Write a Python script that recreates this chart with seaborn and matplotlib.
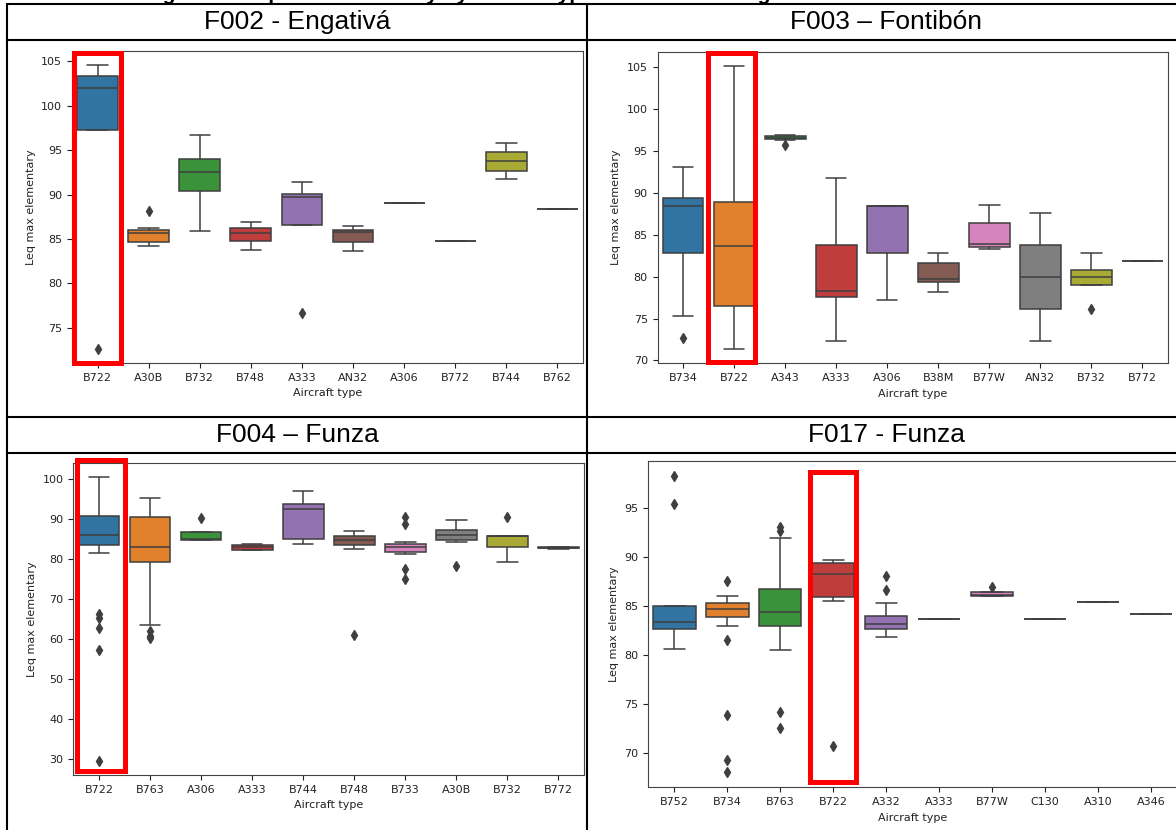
import matplotlib
matplotlib.use('Agg')
import pandas as pd
import matplotlib.pyplot as plt
import seaborn as sns
from matplotlib.lines import Line2D
from matplotlib.patches import Rectangle
from matplotlib.transforms import blended_transform_factory

# Leq max elementary samples per aircraft type, one panel per station
f002_types = ['B722', 'A30B', 'B732', 'B748', 'A333', 'AN32', 'A306', 'B772', 'B744', 'B762']
f002_values = [
    [72.65, 97.3, 102.0, 103.3, 104.55],
    [84.18, 84.5, 84.7, 85.5, 85.7, 85.9, 86.0, 86.27, 88.15],
    [85.86, 90.45, 92.57, 94.03, 96.68],
    [83.8, 84.81, 85.7, 86.23, 86.9],
    [76.68, 86.53, 89.7, 90.1, 91.42],
    [83.7, 84.7, 85.8, 86.0, 86.42],
    [89.0],
    [84.74],
    [91.8, 92.65, 93.73, 94.74, 95.8],
    [88.32],
]

f003_types = ['B734', 'B722', 'A343', 'A333', 'A306', 'B38M', 'B77W', 'AN32', 'B732', 'B772']
f003_values = [
    [72.7, 75.32, 82.85, 86.0, 88.45, 88.9, 89.4, 91.0, 93.06],
    [71.35, 76.55, 83.61, 88.93, 105.08],
    [95.65, 96.3, 96.35, 96.45, 96.5, 96.6, 96.7, 96.8, 96.9],
    [72.3, 77.62, 78.33, 83.77, 91.7],
    [77.22, 82.78, 88.45, 88.45, 88.45],
    [78.17, 79.33, 79.72, 81.59, 82.86],
    [83.3, 83.57, 83.89, 86.39, 88.57],
    [72.3, 76.11, 79.92, 83.77, 87.58],
    [76.1, 79.0, 79.0, 79.6, 80.0, 80.3, 80.8, 81.8, 82.86],
    [81.9],
]

f004_types = ['B722', 'B763', 'A306', 'A333', 'B744', 'B748', 'B733', 'A30B', 'B732', 'B772']
f004_values = [
    [29.6, 57.27, 62.68, 65.3, 66.17, 81.46, 83.46, 84.0, 84.5, 85.0, 85.3, 85.6, 85.87,
     86.5, 87.5, 88.5, 89.5, 90.2, 90.69, 91.5, 93.0, 95.0, 97.0, 99.0, 100.33],
    [60.2, 60.8, 61.9, 63.5, 79.14, 80.0, 81.0, 82.0, 82.96, 85.0, 87.0, 89.0, 90.36,
     91.5, 92.5, 94.0, 95.18],
    [84.7, 84.7, 84.9, 86.7, 90.2],
    [82.13, 82.3, 82.87, 83.45, 83.6],
    [83.79, 84.87, 92.52, 93.77, 97.0],
    [61.0, 82.38, 83.46, 84.0, 84.62, 85.0, 85.62, 86.3, 86.95],
    [75.06, 77.4, 81.13, 81.71, 82.0, 82.5, 82.87, 83.1, 83.4, 83.62, 84.29, 88.6, 90.52],
    [78.22, 84.2, 84.62, 85.3, 85.87, 86.5, 87.2, 88.5, 89.78],
    [79.14, 81.0, 82.9, 84.0, 85.6, 85.7, 85.8, 85.8, 90.5],
    [82.5, 82.6, 82.8, 82.95, 83.0],
]

f017_types = ['B752', 'B734', 'B763', 'B722', 'A332', 'A333', 'B77W', 'C130', 'A310', 'A346']
f017_values = [
    [80.6, 82.0, 82.67, 83.0, 83.35, 84.5, 85.0, 95.34, 98.27],
    [68.03, 69.25, 73.92, 81.5, 82.91, 83.85, 84.0, 84.2, 84.4, 84.5, 84.65, 84.8, 84.9,
     85.0, 85.2, 85.3, 85.5, 85.7, 85.85, 86.0, 87.55],
    [72.56, 74.16, 80.49, 82.91, 83.5, 84.0, 84.41, 85.0, 86.0, 86.69, 91.9, 92.65, 93.0],
    [70.68, 85.5, 85.94, 87.0, 88.22, 88.8, 89.35, 89.5, 89.69],
    [81.82, 82.2, 82.4, 82.6, 82.8, 83.0, 83.15, 83.4, 83.7, 83.93, 85.26, 86.66, 88.05],
    [83.66],
    [86.0, 86.02, 86.05, 86.1, 86.15, 86.2, 86.4, 86.45, 86.95],
    [83.66],
    [85.4],
    [84.13],
]

titles = ['F002 - Engativá', 'F003 – Fontibón', 'F004 – Funza', 'F017 - Funza']
highlight = 'B722'

W, H = 1176, 830


def fx(x):
    return x / W


def fy(y):
    return 1 - y / H


def long_df(types, values):
    rows = []
    for t, vals in zip(types, values):
        for v in vals:
            rows.append({'Aircraft type': t, 'Leq max elementary': v})
    return pd.DataFrame(rows)


sns.set_style("ticks")
plt.rcParams['font.family'] = ['DejaVu Sans']

fig = plt.figure(figsize=(W / 100, H / 100), dpi=100)

# axes boxes in pixels: left, top, right, bottom
boxes = [(72, 51, 583, 363), (657.5, 52, 1168, 363.3),
         (73.4, 463.3, 584, 775), (648, 460.7, 1177.3, 787.3)]
# red frame around B722: x offsets in category units, y in axes fraction
frames = [(-0.46, 0.46, 0.0, 0.995), (-0.507, 0.404, 0.003, 0.997),
          (-0.43, 0.505, 0.013, 1.011), (-0.446, 0.435, 0.015, 0.964)]
panels = [(f002_types, f002_values), (f003_types, f003_values),
          (f004_types, f004_values), (f017_types, f017_values)]

for (types, values), (l, t, r, b), (dl, dr, y0, y1) in zip(panels, boxes, frames):
    ax = fig.add_axes([fx(l), fy(b), fx(r) - fx(l), fy(t) - fy(b)])
    df = long_df(types, values)
    sns.boxplot(data=df, x='Aircraft type', y='Leq max elementary', hue='Aircraft type',
                order=types, hue_order=types, palette='tab10', saturation=0.75,
                width=0.8, linewidth=1.1, linecolor='#3f3f3f', legend=False,
                flierprops=dict(marker='d', markerfacecolor='#3f3f3f',
                                markeredgecolor='#3f3f3f', markersize=5), ax=ax)
    ax.tick_params(labelsize=8, colors='#222222', length=3.5, width=0.8)
    ax.set_xlabel('Aircraft type', fontsize=8, color='#222222')
    ax.set_ylabel('Leq max elementary', fontsize=8, color='#222222')
    for s in ax.spines.values():
        s.set_color('#444444')
        s.set_linewidth(0.8)
    i = types.index(highlight)
    trans = blended_transform_factory(ax.transData, ax.transAxes)
    ax.add_patch(Rectangle((i + dl, y0), dr - dl, y1 - y0, transform=trans,
                           fill=False, edgecolor='#ff0000', linewidth=3.6,
                           clip_on=False, zorder=10))

# table lines
lw = 1.5
for y in [4, 40, 417, 453]:
    fig.add_artist(Line2D([fx(7), fx(W)], [fy(y), fy(y)], color='black', lw=lw))
for x in [7, 587]:
    fig.add_artist(Line2D([fx(x), fx(x)], [fy(4), fy(H)], color='black', lw=lw))

# cell headers
for (cx, cy), title in zip([(297, 22), (886, 22), (297, 435), (886, 435)], titles):
    fig.text(fx(cx), fy(cy), title, ha='center', va='center', fontsize=19,
             color='black', family=['Liberation Sans', 'DejaVu Sans'])

# caption of the page, cut by the crop as in the source
fig.text(fx(500), 1.0, 'Figure 7. Leq max elementary by aircraft type at the monitoring stations',
         ha='center', va='baseline', fontsize=15, fontweight='bold', color='black',
         family=['Liberation Sans', 'DejaVu Sans'])

fig.savefig('out.png', dpi=100)
